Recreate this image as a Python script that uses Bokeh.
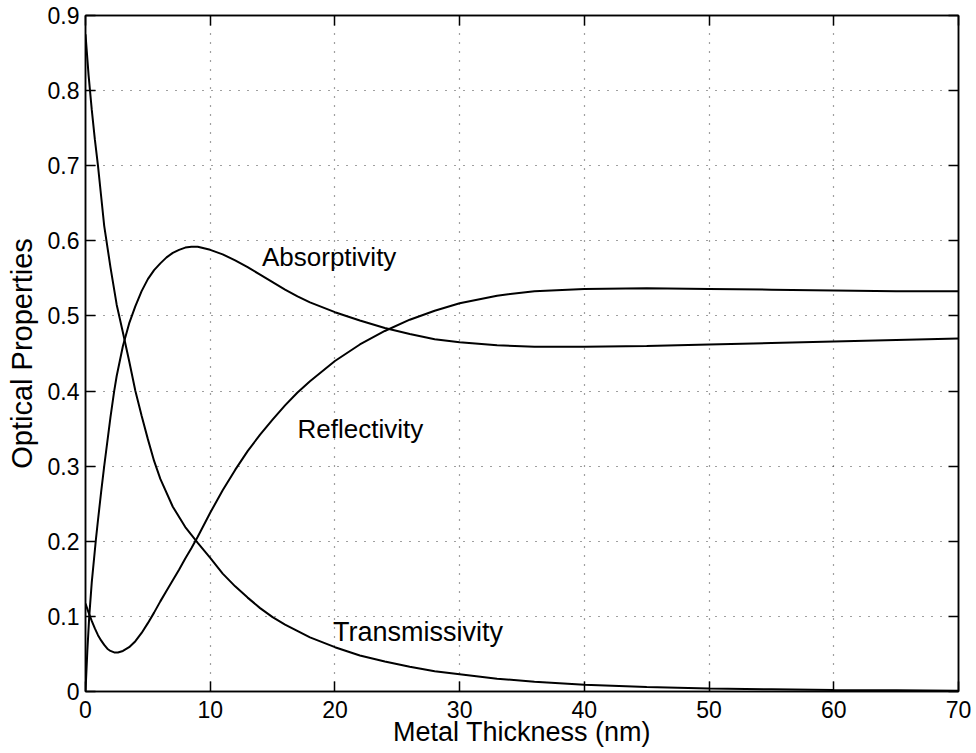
from bokeh.plotting import figure
from bokeh.models import LinearAxis, FixedTicker, Range1d, ColumnDataSource
from bokeh.core.properties import value
from bokeh.embed import file_html
from bokeh.resources import INLINE

# Optical properties of a thin metal film versus its thickness (nm)
trans_x = [0, 0.25, 0.5, 0.75, 1, 1.25, 1.5, 2, 2.5, 3, 3.5, 4, 4.5, 5, 5.5, 6,
           7, 8, 9, 10, 11, 12, 13, 14, 15, 16, 18, 20, 22, 24, 26, 28, 30, 33,
           36, 40, 45, 50, 55, 60, 65, 70]
trans_y = [0.875, 0.82, 0.775, 0.735, 0.70, 0.66, 0.62, 0.565, 0.515, 0.478,
           0.44, 0.40, 0.367, 0.336, 0.307, 0.283, 0.246, 0.219, 0.198, 0.178,
           0.157, 0.14, 0.125, 0.111, 0.099, 0.089, 0.072, 0.059, 0.048, 0.04,
           0.033, 0.027, 0.023, 0.017, 0.013, 0.009, 0.006, 0.004, 0.003,
           0.002, 0.0015, 0.001]

refl_x = [0, 0.25, 0.5, 0.75, 1, 1.25, 1.5, 1.75, 2, 2.3, 2.6, 3, 3.5, 4, 4.5,
          5, 5.5, 6, 6.5, 7, 7.5, 8, 8.5, 9, 9.5, 10, 11, 12, 13, 14, 15, 16,
          17, 18, 20, 22, 24, 26, 28, 30, 33, 36, 40, 45, 50, 55, 60, 65, 70]
refl_y = [0.117, 0.105, 0.094, 0.084, 0.075, 0.068, 0.062, 0.057, 0.054,
          0.052, 0.052, 0.054, 0.059, 0.067, 0.078, 0.091, 0.105, 0.12, 0.134,
          0.148, 0.162, 0.177, 0.191, 0.206, 0.222, 0.238, 0.268, 0.295, 0.32,
          0.342, 0.362, 0.381, 0.398, 0.413, 0.44, 0.462, 0.48, 0.495, 0.507,
          0.517, 0.527, 0.533, 0.536, 0.537, 0.536, 0.535, 0.534, 0.533, 0.533]

abs_x = [0, 0.15, 0.3, 0.5, 0.85, 1, 1.25, 1.5, 2, 2.3, 2.5, 3, 3.5, 4, 4.5, 5,
         5.5, 6, 6.5, 7, 7.5, 8, 8.5, 9, 9.5, 10, 11, 12, 13, 14, 15, 16, 17,
         18, 20, 22, 24, 26, 28, 30, 33, 36, 40, 45, 50, 55, 60, 65, 70]
abs_y = [0.0, 0.055, 0.1, 0.145, 0.205, 0.228, 0.265, 0.3, 0.365, 0.4, 0.42,
         0.46, 0.49, 0.513, 0.533, 0.549, 0.561, 0.57, 0.578, 0.584, 0.588,
         0.591, 0.592, 0.592, 0.59, 0.588, 0.582, 0.574, 0.565, 0.555, 0.545,
         0.535, 0.526, 0.518, 0.505, 0.494, 0.484, 0.476, 0.469, 0.465, 0.461,
         0.459, 0.459, 0.46, 0.462, 0.464, 0.466, 0.468, 0.47]

curve_names = ["Absorptivity", "Reflectivity", "Transmissivity"]
name_x = [14.15, 17.0, 19.85]
name_y = [0.578, 0.350, 0.079]
name_size = ["26px", "26px", "27px"]

x_ticks = [0, 10, 20, 30, 40, 50, 60, 70]
y_ticks = [0, 0.1, 0.2, 0.3, 0.4, 0.5, 0.6, 0.7, 0.8, 0.9]
y_tick_labels = ["0", "0.1", "0.2", "0.3", "0.4", "0.5", "0.6", "0.7", "0.8", "0.9"]
x_title = "Metal Thickness (nm)"
y_title = "Optical Properties"

FONT = "Liberation Sans"

p = figure(width=976, height=753, x_range=Range1d(0, 70), y_range=Range1d(0, 0.9),
           output_backend="svg", toolbar_location=None,
           min_border_left=85, min_border_right=18, min_border_top=15,
           min_border_bottom=62, background_fill_color="white",
           border_fill_color="white")

p.outline_line_color = "black"
p.outline_line_width = 1.5

xt = FixedTicker(ticks=x_ticks)
yt = FixedTicker(ticks=y_ticks)

for ax in (p.xaxis[0], p.yaxis[0]):
    ax.major_tick_in = 10
    ax.major_tick_out = 0
    ax.minor_tick_in = 0
    ax.minor_tick_out = 0
    ax.axis_line_color = "black"
    ax.axis_line_width = 1.5
    ax.major_tick_line_width = 1.5
    ax.major_label_text_font = FONT
    ax.major_label_text_font_size = "23px"
    ax.major_label_text_color = "black"
    ax.axis_label_text_font = FONT
    ax.axis_label_text_font_style = "normal"
    ax.axis_label_text_color = "black"

p.xaxis[0].ticker = xt
p.yaxis[0].ticker = yt
p.yaxis[0].major_label_overrides = {t: s for t, s in zip(y_ticks, y_tick_labels)}
p.xaxis[0].axis_label = x_title
p.yaxis[0].axis_label = y_title
p.xaxis[0].axis_label_text_font_size = "27px"
p.yaxis[0].axis_label_text_font_size = "29px"
p.xaxis[0].major_label_standoff = 9
p.xaxis[0].axis_label_standoff = -4
p.yaxis[0].major_label_standoff = 6
p.yaxis[0].axis_label_standoff = 7

# tick marks on the top and right edges of the box (unlabelled, so drawn as minor ticks)
for ticks, side in ((x_ticks, "above"), (y_ticks, "right")):
    ax = LinearAxis(ticker=FixedTicker(ticks=[], minor_ticks=ticks),
                    major_tick_in=0, major_tick_out=0,
                    minor_tick_in=10, minor_tick_out=0,
                    minor_tick_line_width=1.5, minor_tick_line_color="black",
                    major_label_standoff=0,
                    axis_line_color="black", axis_line_width=1.5)
    p.add_layout(ax, side)

for g, t in ((p.xgrid[0], xt), (p.ygrid[0], yt)):
    g.ticker = t
    g.grid_line_color = "black"
    g.grid_line_alpha = 0.75
    g.grid_line_width = 1.2
    g.grid_line_dash = "1 8"

p.line(abs_x, abs_y, line_color="black", line_width=2)
p.line(refl_x, refl_y, line_color="black", line_width=2)
p.line(trans_x, trans_y, line_color="black", line_width=2)

labels = ColumnDataSource(dict(x=name_x, y=name_y, text=curve_names, size=name_size))
p.text(x="x", y="y", text="text", source=labels, text_font=value(FONT),
       text_font_size="size", text_color="black", text_align="left",
       text_baseline="middle")

open("out.html", "w").write(file_html(p, INLINE))
